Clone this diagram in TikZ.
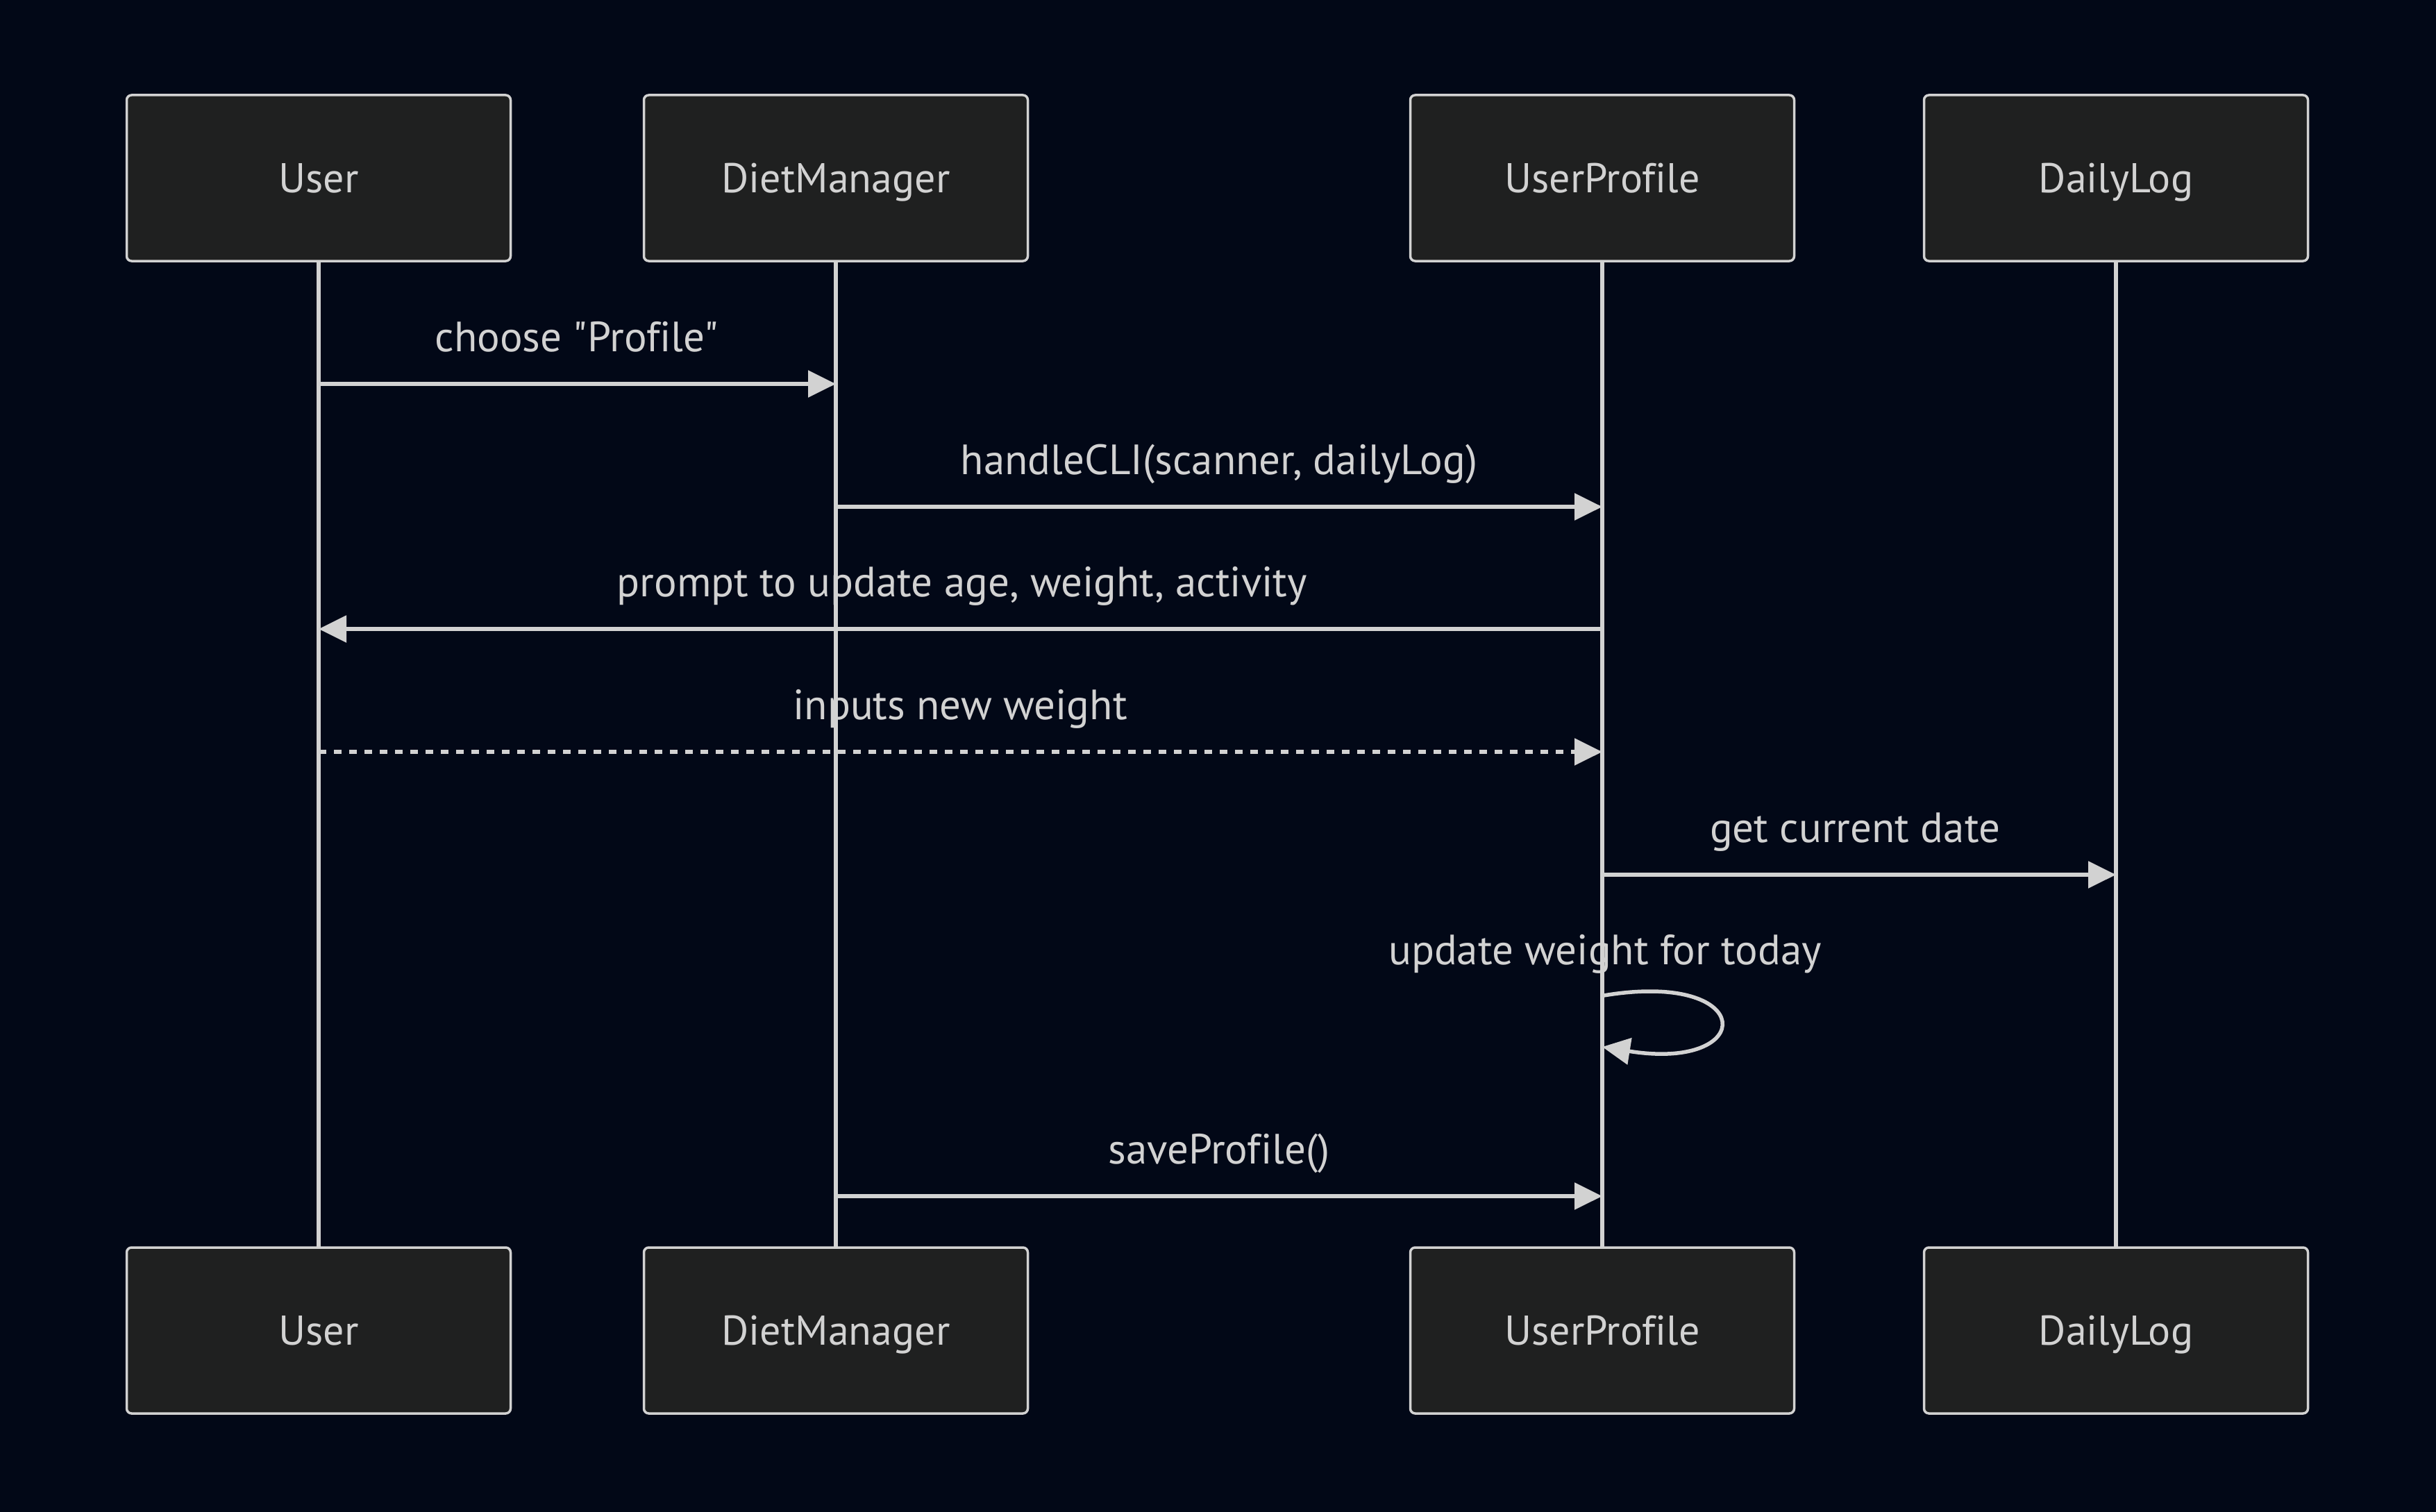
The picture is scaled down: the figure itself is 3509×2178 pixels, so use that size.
\documentclass[tikz,border=0pt]{standalone}
\usepackage{fontspec}
\setmainfont{PT Sans}[Ligatures={TeXOff,NoCommon}]
\usetikzlibrary{arrows.meta}
\definecolor{bg}{RGB}{2,8,23}
\definecolor{boxfill}{RGB}{31,32,32}
\definecolor{ln}{RGB}{210,210,210}
\begin{document}
\begin{tikzpicture}[x=1pt,y=-1pt,
  actor/.style={draw=ln, fill=boxfill, line width=3.5pt, rounded corners=7pt,
    minimum width=553pt, minimum height=239pt, text=ln, inner sep=0pt,
    text height=50pt, text depth=9pt,
    font=\fontsize{60}{72}\selectfont},
  msg/.style={draw=ln, line width=5.5pt, -{Triangle[length=40pt,width=38pt]}},
  lbl/.style={text=ln, inner sep=0pt, anchor=base, font=\fontsize{61}{72}\selectfont},
  life/.style={draw=ln, line width=6pt}]
\fill[bg] (0,0) rectangle (3509,2178);
\useasboundingbox (0,0) rectangle (3509,2178);
% lifelines
\coordinate (uTs) at (459,376); \coordinate (uBn) at (459,1797);
\coordinate (dTs) at (1204,376); \coordinate (dBn) at (1204,1797);
\coordinate (pTs) at (2308,376); \coordinate (pBn) at (2308,1797);
\coordinate (lTs) at (3048,376); \coordinate (lBn) at (3048,1797);
\draw[life] (uTs) -- (uBn);
\draw[life] (dTs) -- (dBn);
\draw[life] (pTs) -- (pBn);
\draw[life] (lTs) -- (lBn);
% actors
\node[actor] (uT) at (459,256.5) {User};
\node[actor] (dT) at (1204,256.5) {DietManager};
\node[actor] (pT) at (2308,256.5) {UserProfile};
\node[actor] (lT) at (3048,256.5) {DailyLog};
\node[actor] (uB) at (459,1916.5) {User};
\node[actor] (dB) at (1204,1916.5) {DietManager};
\node[actor] (pB) at (2308,1916.5) {UserProfile};
\node[actor] (lB) at (3048,1916.5) {DailyLog};
% message end points
\coordinate (m1a) at (459,553);  \coordinate (m1b) at (1204,553);
\coordinate (m2a) at (1204,730); \coordinate (m2b) at (2308,730);
\coordinate (m3a) at (2308,906); \coordinate (m3b) at (459,906);
\coordinate (m4a) at (459,1083); \coordinate (m4b) at (2308,1083);
\coordinate (m5a) at (2308,1260); \coordinate (m5b) at (3048,1260);
\coordinate (m6a) at (2310,1434); \coordinate (m6b) at (2308,1508);
\coordinate (m7a) at (1204,1723); \coordinate (m7b) at (2308,1723);
% messages
\draw[msg] (m1a) -- (m1b);
\draw[msg] (m2a) -- (m2b);
\draw[msg] (m3a) -- (m3b);
\draw[msg, dash pattern=on 11pt off 11pt] (m4a) -- (m4b);
\draw[msg] (m5a) -- (m5b);
\draw[msg] (m6a) .. controls (2532,1397) and (2532,1544) .. (m6b);
\draw[msg] (m7a) -- (m7b);
% labels
\node[lbl] (t1) at (831,506) {choose "Profile"};
\node[lbl] (t2) at (1756,683) {handleCLI(scanner, dailyLog)};
\node[lbl] (t3) at (1386,859) {prompt to update age, weight, activity};
\node[lbl] (t4) at (1383,1036) {inputs new weight};
\node[lbl] (t5) at (2672,1213) {get current date};
\node[lbl] (t6) at (2312,1389) {update weight for today};
\node[lbl] (t7) at (1756,1676) {saveProfile()};
\end{tikzpicture}
\end{document}
